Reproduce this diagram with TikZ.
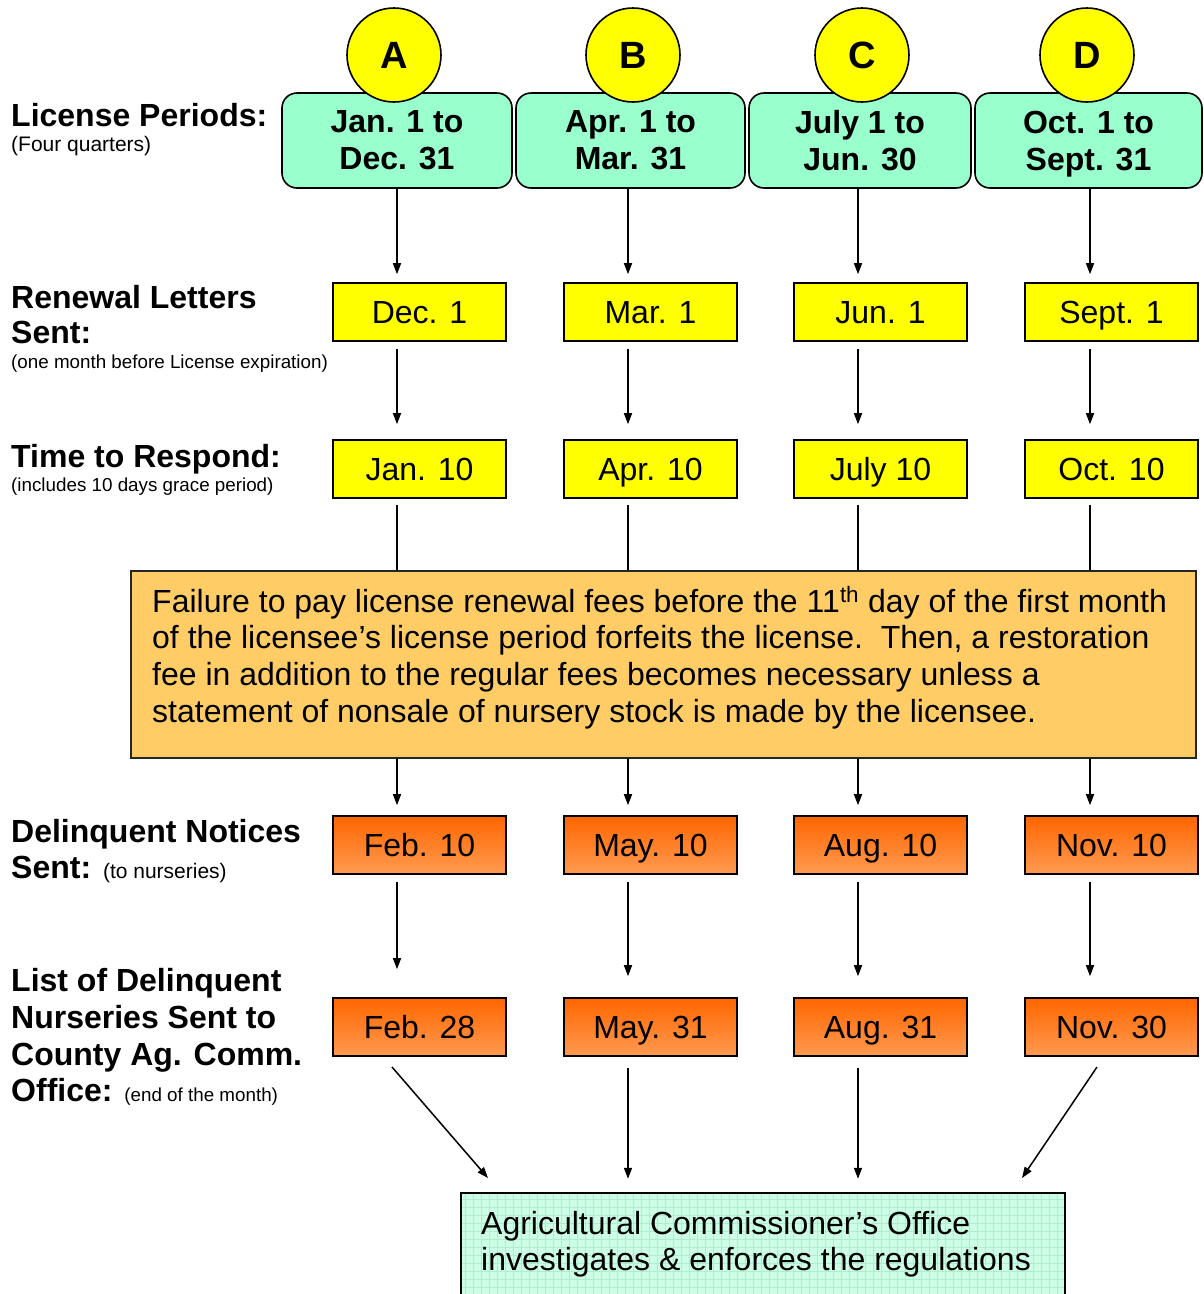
\documentclass[tikz,border=0pt]{standalone}
\usepackage{fontspec}
\setmainfont{Liberation Sans}
\usetikzlibrary{arrows.meta,calc}
\definecolor{mint}{HTML}{99FFCC}
\definecolor{yel}{HTML}{FFFF00}
\definecolor{peach}{HTML}{FFCC66}
\definecolor{orTop}{HTML}{FF6600}
\definecolor{orBot}{HTML}{FF9A50}
\definecolor{offg}{HTML}{CCFFE6}
\definecolor{gridc}{HTML}{ADEECD}
\newcommand{\fntReg}{\fontsize{32}{36.7}\selectfont}
\newcommand{\fntBold}{\fontsize{32}{37}\selectfont\bfseries}
\newcommand{\fntSmall}{\fontsize{18.8}{22}\selectfont}
\newcommand{\fntMid}{\fontsize{21}{25}\selectfont}
\newcommand{\fntLetter}{\fontsize{38}{40}\selectfont\bfseries}
\tikzset{
  period/.style={draw, line width=1.6pt, fill=mint, rounded corners=15pt,
    minimum width=#1, minimum height=95pt, inner sep=0pt, align=center, font=\fntBold},
  letter/.style={draw, line width=1.6pt, fill=yel, circle, minimum size=94pt,
    inner sep=0pt, font=\fntLetter, text height=27.2pt, text depth=0pt},
  datebox/.style={draw, line width=1.6pt, minimum width=173pt, minimum height=58pt,
    inner sep=0pt, font=\fntReg, text height=22.9pt, text depth=0pt},
  ybox/.style={datebox, fill=yel},
  obox/.style={datebox, top color=orTop, bottom color=orBot},
  lab/.style={anchor=base west, inner sep=0pt, font=\fntBold},
  labsmall/.style={anchor=base west, inner sep=0pt, font=\fntSmall},
  labmid/.style={anchor=base west, inner sep=0pt, font=\fntMid},
  arr/.style={line width=1.5pt, -{Triangle[length=11pt,width=8pt]}},
  plain/.style={line width=1.5pt},
}
\begin{document}
\begin{tikzpicture}[x=1pt,y=-1pt]
\fill[white] (0,0) rectangle (1204,1294);
\useasboundingbox (0,0) rectangle (1204,1294);

% column coordinates
\coordinate (cA) at (397,0);
\coordinate (cB) at (628,0);
\coordinate (cC) at (858,0);
\coordinate (cD) at (1090,0);

% license period boxes
\node[period=230pt] (pA) at (397,140.5) {Jan. 1 to\\Dec. 31};
\node[period=229pt] (pB) at (630.5,140.5) {Apr. 1 to\\Mar. 31};
\node[period=222pt] (pC) at (860,140.5) {July 1 to\\Jun. 30};
\node[period=227pt] (pD) at (1088.5,140.5) {Oct. 1 to\\\raisebox{0pt}[\height][0pt]{Sept. 31}};

% circles
\node[letter] (lA) at (394,55) {A};
\node[letter] (lB) at (633,55) {B};
\node[letter] (lC) at (862,55) {C};
\node[letter] (lD) at (1087,55) {D};

% renewal letters row
\node[ybox] (r2A) at (419.5,312) {Dec. 1};
\node[ybox] (r2B) at (650.5,312) {Mar. 1};
\node[ybox] (r2C) at (880.5,312) {Jun. 1};
\node[ybox] (r2D) at (1111.5,312) {Sept. 1};

% time to respond row
\node[ybox] (r3A) at (419.5,469) {Jan. 10};
\node[ybox] (r3B) at (650.5,469) {Apr. 10};
\node[ybox] (r3C) at (880.5,469) {July 10};
\node[ybox] (r3D) at (1111.5,469) {Oct. 10};

% failure box
\node[draw=black!85, line width=1.4pt, fill=peach, minimum width=1065pt,
  minimum height=187pt, inner sep=0pt] (fail) at (663.5,664.5) {};
\node[anchor=base west, inner sep=0pt] (failtext) at (152,612) {\parbox[t]{1040pt}{\fntReg\raggedright
Failure to pay license renewal fees before the 11\textsuperscript{th} day of the first month\\
of the licensee’s license period forfeits the license.\ \ Then, a restoration\\
fee in addition to the regular fees becomes necessary unless a\\
statement of nonsale of nursery stock is made by the licensee.}};

% delinquent notices row
\node[obox] (r4A) at (419.5,845) {Feb. 10};
\node[obox] (r4B) at (650.5,845) {May. 10};
\node[obox] (r4C) at (880.5,845) {Aug. 10};
\node[obox] (r4D) at (1111.5,845) {Nov. 10};

% list row
\node[obox] (r5A) at (419.5,1027) {Feb. 28};
\node[obox] (r5B) at (650.5,1027) {May. 31};
\node[obox] (r5C) at (880.5,1027) {Aug. 31};
\node[obox] (r5D) at (1111.5,1027) {Nov. 30};

% office box
\node[fill=offg, minimum width=604pt, minimum height=110pt, inner sep=0pt] (office) at (763,1248) {};
\begin{scope}
  \clip (office.south west) rectangle (office.north east);
  \foreach \gx in {465,473,...,1065} \draw[gridc, line width=0.8pt] (\gx,1185) -- (\gx,1310);
  \foreach \gy in {1199,1207,...,1303} \draw[gridc, line width=0.8pt] (455,\gy) -- (1070,\gy);
\end{scope}
\draw[line width=1.6pt] (office.south west) -- (office.north west) -- (office.north east) -- (office.south east);
\node[anchor=base west, inner sep=0pt] (offtext) at (481,1234) {\parbox[t]{590pt}{\fntReg\raggedright
Agricultural Commissioner’s Office\\investigates \& enforces the regulations}};

% left labels
\node[lab] (t1) at (11,126) {License Periods:};
\node[labmid] (t1s) at (11,151) {(Four quarters)};
\node[lab] (t2) at (11,308) {Renewal Letters};
\node[lab] (t2b) at (11,343) {Sent:};
\node[labsmall] (t2s) at (11,368) {(one month before License expiration)};
\node[lab] (t3) at (11,467) {Time to Respond:};
\node[labsmall] (t3s) at (11,491) {(includes 10 days grace period)};
\node[lab] (t4) at (11,842) {Delinquent Notices};
\node[lab] (t4b) at (11,878) {Sent: {\fntMid\mdseries (to nurseries)}};
\node[lab] (t5) at (11,991) {List of Delinquent};
\node[lab] (t5b) at (11,1028) {Nurseries Sent to};
\node[lab] (t5c) at (11,1065) {County Ag. Comm.};
\node[lab] (t5d) at (11,1101) {Office: {\fntSmall\mdseries (end of the month)}};

% connectors
\foreach \c in {A,B,C,D}{
  \draw[arr, shorten >=8pt] (p\c.south -| c\c) -- (r2\c.north -| c\c);
  \draw[arr, shorten <=7pt, shorten >=15pt] (r2\c.south -| c\c) -- (r3\c.north -| c\c);
  \draw[plain, shorten <=6pt] (r3\c.south -| c\c) -- (fail.north -| c\c);
  \draw[arr, shorten >=10pt] (fail.south -| c\c) -- (r4\c.north -| c\c);
}
\draw[arr, shorten <=7pt, shorten >=28pt] (r4A.south -| cA) -- (r5A.north -| cA);
\foreach \c in {B,C,D}{
  \draw[arr, shorten <=7pt, shorten >=21pt] (r4\c.south -| c\c) -- (r5\c.north -| c\c);
}
\foreach \c in {B,C}{
  \draw[arr, shorten <=11pt, shorten >=14pt] (r5\c.south -| c\c) -- (office.north -| c\c);
}
\coordinate (dA1) at (392,1067);
\coordinate (dA2) at (488,1178);
\coordinate (dD1) at (1097,1067);
\coordinate (dD2) at (1022,1178);
\draw[arr] (dA1) -- (dA2);
\draw[arr] (dD1) -- (dD2);
\end{tikzpicture}
\end{document}
